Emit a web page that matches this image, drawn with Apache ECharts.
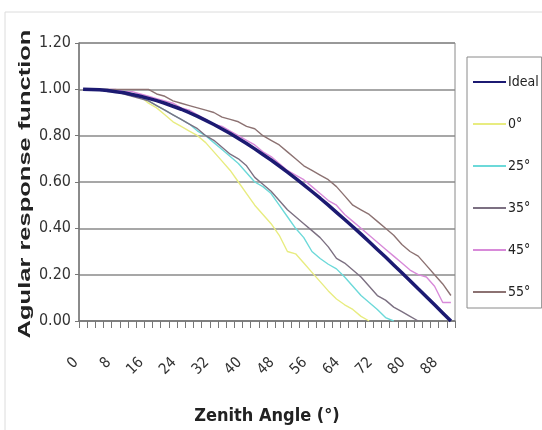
<!DOCTYPE html>
<html>
<head>
<meta charset="utf-8">
<script src="https://cdn.jsdelivr.net/npm/echarts@6/dist/echarts.min.js"></script>
<style>
  html, body { margin: 0; padding: 0; background: #fff; }
  #chart { width: 542px; height: 430px; }
</style>
</head>
<body>
<div id="chart"></div>
<script>
var angles = ['0', '2', '4', '6', '8', '10', '12', '14', '16', '18', '20', '22', '24', '26', '28', '30',
  '32', '34', '36', '38', '40', '42', '44', '46', '48', '50', '52', '54', '56', '58', '60', '62',
  '64', '66', '68', '70', '72', '74', '76', '78', '80', '82', '84', '86', '88', '90'];

var yTicks = { min: 0, max: 1.2, step: 0.2 };

var ideal = [1.000, 0.999, 0.998, 0.995, 0.990, 0.985, 0.978, 0.970, 0.961, 0.951, 0.940, 0.927,
  0.914, 0.899, 0.883, 0.866, 0.848, 0.829, 0.809, 0.788, 0.766, 0.743, 0.719, 0.695, 0.669,
  0.643, 0.616, 0.588, 0.559, 0.530, 0.500, 0.469, 0.438, 0.407, 0.375, 0.342, 0.309, 0.276,
  0.242, 0.208, 0.174, 0.139, 0.105, 0.070, 0.035, 0.000];

var deg0 = [1.00, 1.00, 1.00, 1.00, 0.99, 0.99, 0.98, 0.97, 0.94, 0.92, 0.89, 0.86, 0.84, 0.82,
  0.80, 0.77, 0.73, 0.69, 0.65, 0.60, 0.55, 0.50, 0.46, 0.42, 0.37, 0.30, 0.29, 0.25, 0.21,
  0.17, 0.13, 0.095, 0.07, 0.05, 0.02, 0.00];

var deg25 = [1.00, 1.00, 1.00, 1.00, 0.99, 0.99, 0.98, 0.97, 0.95, 0.93, 0.91, 0.89, 0.87, 0.85,
  0.82, 0.80, 0.77, 0.74, 0.71, 0.68, 0.64, 0.60, 0.58, 0.55, 0.50, 0.45, 0.40, 0.36, 0.30,
  0.27, 0.245, 0.225, 0.19, 0.15, 0.11, 0.08, 0.05, 0.015, 0.00];

var deg35 = [1.00, 1.00, 1.00, 0.99, 0.99, 0.98, 0.97, 0.96, 0.95, 0.93, 0.91, 0.89, 0.87, 0.85,
  0.83, 0.80, 0.78, 0.75, 0.72, 0.70, 0.67, 0.62, 0.59, 0.56, 0.52, 0.48, 0.45, 0.42, 0.39,
  0.36, 0.32, 0.27, 0.25, 0.22, 0.19, 0.15, 0.11, 0.09, 0.06, 0.04, 0.02, 0.00];

var deg45 = [1.00, 1.00, 1.00, 1.00, 1.00, 0.99, 0.99, 0.98, 0.97, 0.96, 0.95, 0.94, 0.92, 0.91,
  0.89, 0.87, 0.85, 0.84, 0.82, 0.80, 0.78, 0.76, 0.73, 0.71, 0.68, 0.65, 0.63, 0.61, 0.58,
  0.55, 0.52, 0.50, 0.46, 0.43, 0.40, 0.37, 0.34, 0.31, 0.28, 0.25, 0.22, 0.20, 0.19, 0.15,
  0.08, 0.08];

var deg55 = [1.00, 1.00, 1.00, 1.00, 1.00, 1.00, 1.00, 1.00, 1.00, 0.98, 0.97, 0.95, 0.94, 0.93,
  0.92, 0.91, 0.90, 0.88, 0.87, 0.86, 0.84, 0.83, 0.80, 0.78, 0.76, 0.73, 0.70, 0.67, 0.65,
  0.63, 0.61, 0.58, 0.54, 0.50, 0.48, 0.46, 0.43, 0.40, 0.37, 0.33, 0.30, 0.28, 0.24, 0.20,
  0.16, 0.11];

var seriesNames = ['Ideal', '0°', '25°', '35°', '45°', '55°'];
var seriesData = [ideal, deg0, deg25, deg35, deg45, deg55];
var seriesColors = ['#1c1a72', '#e8ec80', '#6cd9d9', '#7c7082', '#d88ad9', '#8c7272'];
var seriesWidths = [3.5, 1.4, 1.4, 1.4, 1.4, 1.4];

var narrow = '"Liberation Sans Narrow", "DejaVu Sans Condensed", sans-serif';

var chart = echarts.init(document.getElementById('chart'));

var series = seriesNames.map(function (name, i) {
  return {
    name: name,
    type: 'line',
    data: seriesData[i],
    symbol: 'none',
    z: i === 0 ? 3 : 2,
    itemStyle: { color: seriesColors[i] },
    lineStyle: { color: seriesColors[i], width: seriesWidths[i] }
  };
});

chart.setOption({
  animation: false,
  backgroundColor: '#fff',
  textStyle: { fontFamily: narrow },
  graphic: [
    {
      type: 'rect',
      shape: { x: 5, y: 12, width: 600, height: 500 },
      style: { fill: 'none', stroke: '#dcdcdc', lineWidth: 1 }
    },
    {
      type: 'text',
      x: 25,
      y: 184,
      rotation: Math.PI / 2,
      scaleX: 1.5,
      style: {
        text: 'Agular response function',
        font: 'bold 17px "Liberation Sans", Arial, sans-serif',
        fill: '#222',
        textAlign: 'center',
        textVerticalAlign: 'middle'
      }
    }
  ],
  grid: {
    left: 79,
    right: 87,
    top: 43,
    bottom: 106,
    show: true,
    borderColor: '#8a8a8a',
    borderWidth: 1
  },
  legend: {
    orient: 'vertical',
    left: 467,
    top: 57,
    padding: [18, 3, 9, 5],
    itemWidth: 33,
    itemHeight: 14,
    itemGap: 28,
    borderColor: '#8a8a8a',
    borderWidth: 1,
    itemStyle: { opacity: 0 },
    textStyle: { fontFamily: narrow, fontSize: 14, color: '#222', padding: [0, 0, 0, -3] },
    data: seriesNames
  },
  xAxis: {
    type: 'category',
    data: angles,
    boundaryGap: true,
    name: 'Zenith Angle (°)',
    nameLocation: 'middle',
    nameGap: 86,
    nameTextStyle: { fontFamily: narrow, fontSize: 18, fontWeight: 'bold', color: '#222' },
    axisLine: { lineStyle: { color: '#777', width: 1.5 } },
    axisTick: { show: true, interval: 0, length: 7, lineStyle: { color: '#777' } },
    axisLabel: {
      interval: 3,
      rotate: 45,
      margin: 32,
      padding: [0, 10, 0, 0],
      fontFamily: narrow,
      fontSize: 15,
      color: '#333'
    },
    splitLine: { show: false }
  },
  yAxis: {
    type: 'value',
    min: yTicks.min,
    max: yTicks.max,
    interval: yTicks.step,
    axisLine: { show: true, lineStyle: { color: '#777', width: 1.5 } },
    axisTick: { show: true, length: 4, lineStyle: { color: '#777' } },
    axisLabel: {
      margin: 8,
      fontFamily: narrow,
      fontSize: 16,
      color: '#333',
      formatter: function (v) { return v.toFixed(2); }
    },
    splitLine: { lineStyle: { color: '#8a8a8a', width: 1.5 } }
  },
  series: series
});
</script>
</body>
</html>
